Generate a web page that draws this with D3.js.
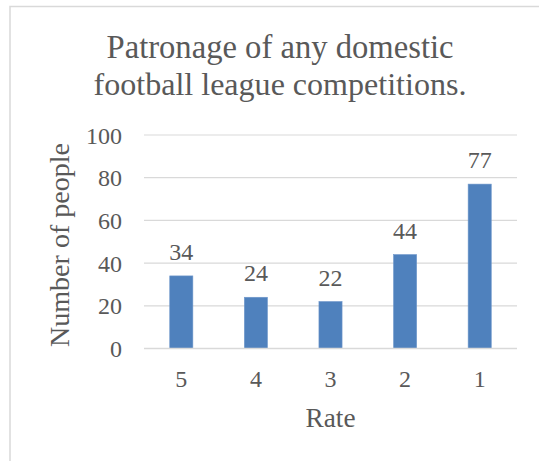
<!DOCTYPE html>
<html>
<head>
<meta charset="utf-8">
<script src="https://cdn.jsdelivr.net/npm/d3@7"></script>
<style>
  html, body { margin: 0; padding: 0; background: #fff; }
  svg { display: block; }
  text { font-family: "Liberation Serif", "DejaVu Serif", serif; fill: #595959; }
</style>
</head>
<body>
<script>
// Survey results: how many people rated their patronage of domestic league football
const titleLines = ["Patronage of any domestic", "football league competitions."];
const categories = ["5", "4", "3", "2", "1"];
const values = [34, 24, 22, 44, 77];
const yTicks = [0, 20, 40, 60, 80, 100];
const xAxisTitle = "Rate";
const yAxisTitle = "Number of people";

const W = 539, H = 461;
const plot = { left: 144, right: 517, top: 135, bottom: 348.5 };

const svg = d3.select("body").append("svg")
  .attr("width", W).attr("height", H);

// shrink/grow a text element's font so it spans the given width
function fitWidth(sel, width) {
  sel.each(function () {
    const node = this;
    const size = parseFloat(node.style.fontSize);
    const w = node.getComputedTextLength();
    node.style.fontSize = (size * width / w).toFixed(2) + "px";
  });
}

// chart area frame
svg.append("rect")
  .attr("x", 10).attr("y", 6.5)
  .attr("width", 540).attr("height", 470)
  .attr("fill", "#fff")
  .attr("stroke", "#d9d9d9").attr("stroke-width", 1.5);

// title
const titleWidths = [347, 373];
svg.append("g").selectAll("text").data(titleLines).join("text")
  .attr("x", 280).attr("y", (d, i) => 58 + i * 36.5)
  .attr("text-anchor", "middle")
  .style("font-size", "30px")
  .text(d => d)
  .each(function (d, i) { fitWidth(d3.select(this), titleWidths[i]); });

const x = d3.scaleBand().domain(categories).range([plot.left, plot.right]).padding(0);
const y = d3.scaleLinear().domain([0, 100]).range([plot.bottom, plot.top]);
const barW = x.bandwidth() * 0.31;

// gridlines
svg.append("g").selectAll("line").data(yTicks).join("line")
  .attr("x1", plot.left).attr("x2", plot.right)
  .attr("y1", d => y(d)).attr("y2", d => y(d))
  .attr("stroke", "#d9d9d9").attr("stroke-width", 1.2);

// y axis labels
const yAxis = svg.append("g")
  .attr("transform", `translate(${plot.left},0)`)
  .call(d3.axisLeft(y).tickValues(yTicks).tickSize(0).tickPadding(22))
  .attr("font-family", null).attr("font-size", null);
yAxis.select(".domain").remove();
yAxis.selectAll("text")
  .style("font-size", "24px").attr("fill", null).attr("dy", "0.34em");

// bars
svg.append("g").selectAll("rect").data(values).join("rect")
  .attr("x", (d, i) => x(categories[i]) + (x.bandwidth() - barW) / 2)
  .attr("width", barW)
  .attr("y", d => y(d))
  .attr("height", d => y(0) - y(d))
  .attr("fill", "#4f81bd")
  .attr("stroke", "#6f97cb").attr("stroke-width", 0.6);

// baseline over bars
svg.append("line")
  .attr("x1", plot.left).attr("x2", plot.right)
  .attr("y1", y(0)).attr("y2", y(0))
  .attr("stroke", "#d9d9d9").attr("stroke-width", 1.5);

// value labels
svg.append("g").selectAll("text").data(values).join("text")
  .attr("x", (d, i) => x(categories[i]) + x.bandwidth() / 2)
  .attr("y", d => y(d) - 16)
  .attr("text-anchor", "middle")
  .style("font-size", "24px")
  .text(d => d);

// x axis labels
const xAxis = svg.append("g")
  .attr("transform", `translate(0,${plot.bottom})`)
  .call(d3.axisBottom(x).tickSize(0).tickPadding(0))
  .attr("font-family", null).attr("font-size", null);
xAxis.select(".domain").remove();
xAxis.selectAll("text")
  .style("font-size", "24px").attr("fill", null)
  .attr("y", 38.5).attr("dy", null);

// axis titles
svg.append("text")
  .attr("x", (plot.left + plot.right) / 2).attr("y", 427)
  .attr("text-anchor", "middle")
  .style("font-size", "27px")
  .text(xAxisTitle)
  .call(fitWidth, 50);

svg.append("text")
  .attr("transform", `translate(69,245) rotate(-90)`)
  .attr("text-anchor", "middle")
  .style("font-size", "27px")
  .text(yAxisTitle)
  .call(fitWidth, 204);
</script>
</body>
</html>
